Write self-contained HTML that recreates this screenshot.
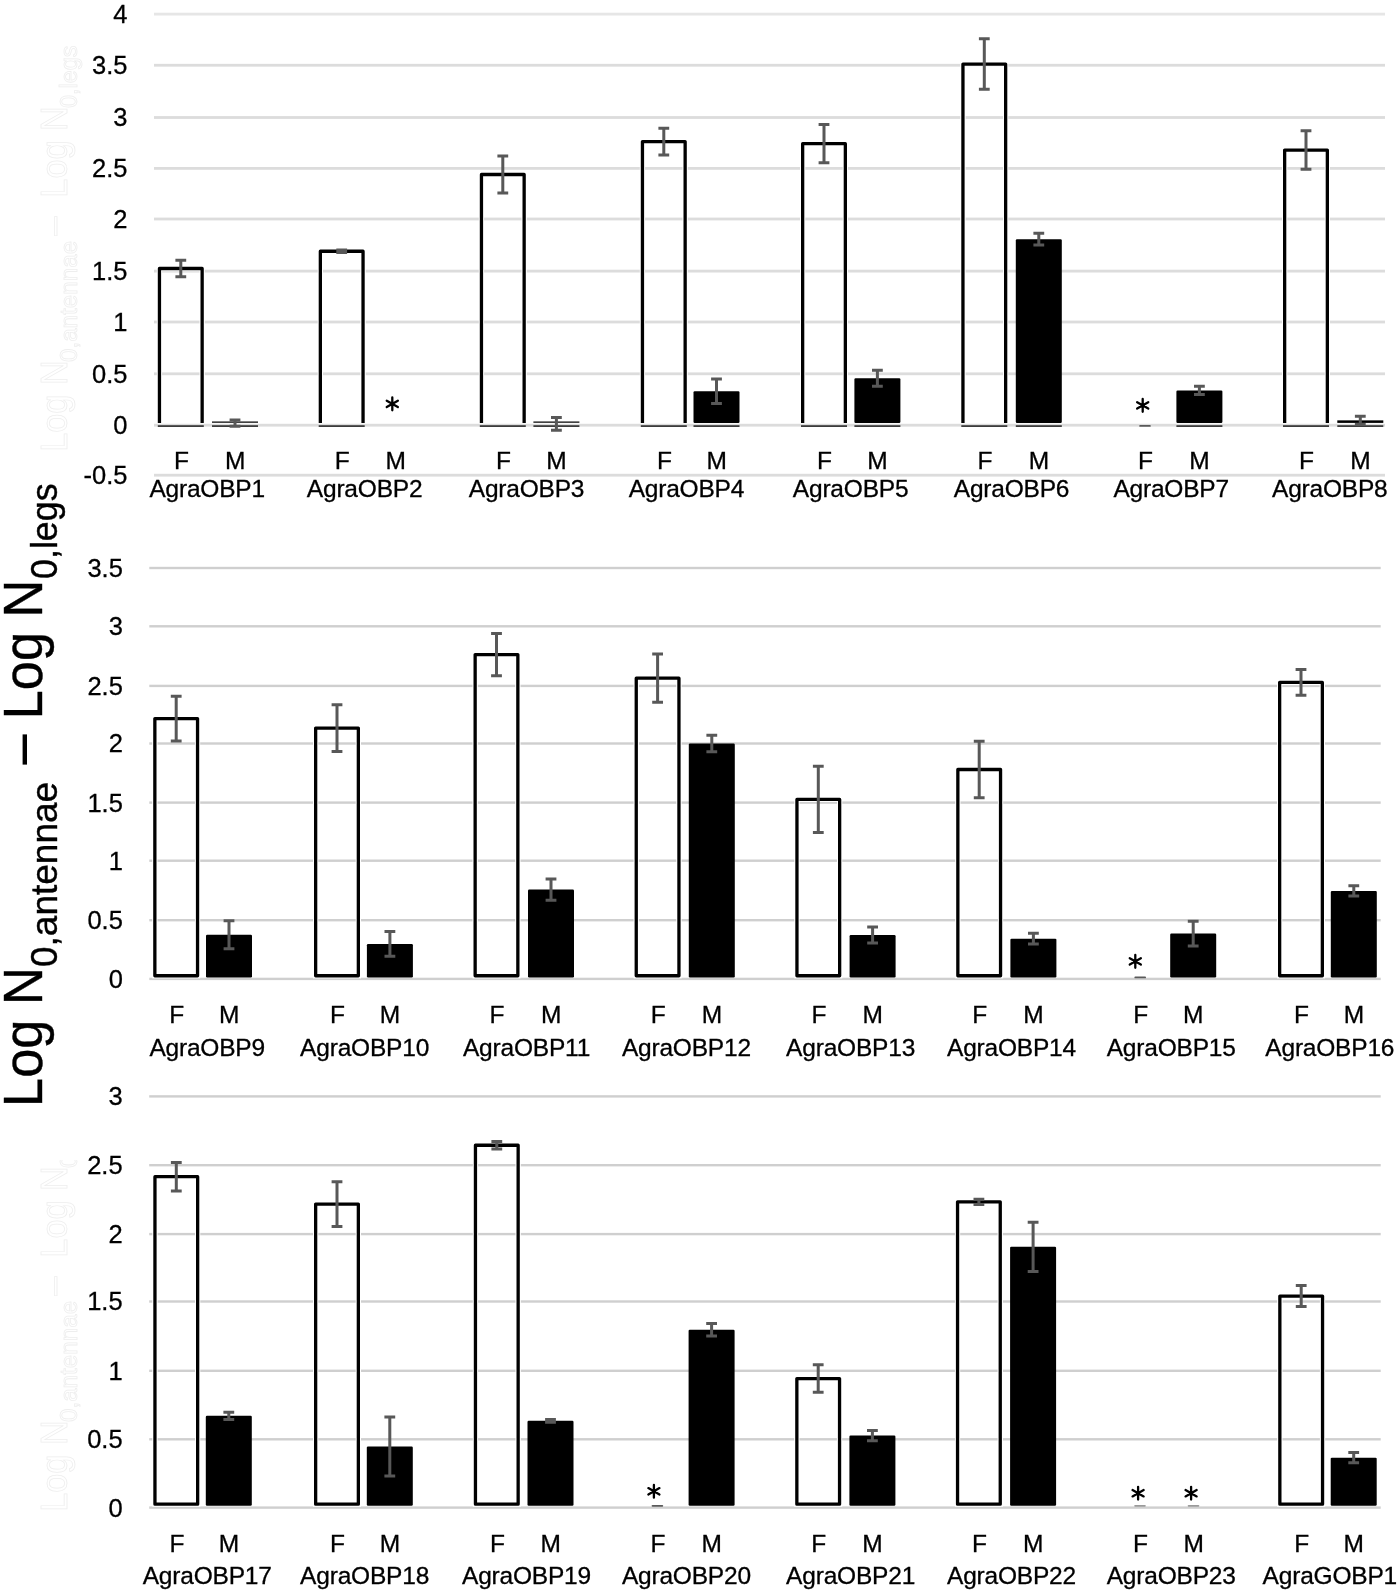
<!DOCTYPE html>
<html><head><meta charset="utf-8"><title>AgraOBP expression</title>
<style>
html,body{margin:0;padding:0;background:#fff;}
body{width:1400px;height:1593px;overflow:hidden;}
svg{display:block;will-change:transform;}
text{font-family:"Liberation Sans", sans-serif;fill:#000;}
.ax{font-size:25.5px;stroke:#000;stroke-width:0.3px;}
.cl{font-size:24.5px;stroke:#000;stroke-width:0.3px;letter-spacing:-0.2px;}
.ast{font-size:26px;}
.tt{font-size:54px;stroke:#000;stroke-width:0.4px;}
.sub{font-size:36.7px;}
.gh{fill:none;stroke:#eeeeee;stroke-width:0.8px;}
.gsub{font-size:22px;}
</style></head>
<body>
<svg width="1400" height="1593" viewBox="0 0 1400 1593">
<defs><clipPath id="gclip"><rect x="0" y="1160" width="140" height="380"/></clipPath></defs>
<rect width="1400" height="1593" fill="#fff"/>
<text class="gh" style="font-size:36.8765px" transform="translate(66.5,451.8) rotate(-90) scale(0.93,1)">Log N</text>
<text class="gh" style="font-size:24.235px" transform="translate(76.65,362.06) rotate(-90) scale(1.0,1)">0,antennae</text>
<text class="gh" style="font-size:36.8765px" transform="translate(64.53,235.65) rotate(-90) scale(0.93,1)">–</text>
<text class="gh" style="font-size:36.8765px" transform="translate(66.5,197.66) rotate(-90) scale(0.93,1)">Log N</text>
<text class="gh" style="font-size:24.235px" transform="translate(76.65,107.93) rotate(-90) scale(0.967,1)">0,legs</text>
<g clip-path="url(#gclip)"><text class="gh" style="font-size:36.8765px" transform="translate(66.5,1511.8) rotate(-90) scale(0.93,1)">Log N</text>
<text class="gh" style="font-size:24.235px" transform="translate(76.65,1422.07) rotate(-90) scale(1.0,1)">0,antennae</text>
<text class="gh" style="font-size:36.8765px" transform="translate(64.53,1295.65) rotate(-90) scale(0.93,1)">–</text>
<text class="gh" style="font-size:36.8765px" transform="translate(66.5,1257.66) rotate(-90) scale(0.93,1)">Log N</text>
<text class="gh" style="font-size:24.235px" transform="translate(76.65,1167.92) rotate(-90) scale(0.967,1)">0,legs</text></g>
<rect x="154" y="473.8" width="1231" height="2.8" fill="#dcdcdc"/>
<text x="127.5" y="484.1" text-anchor="end" class="ax">-0.5</text>
<rect x="154" y="423.8" width="1231" height="2.8" fill="#dcdcdc"/>
<text x="127.5" y="434.1" text-anchor="end" class="ax">0</text>
<rect x="154" y="372.4" width="1231" height="2.8" fill="#dcdcdc"/>
<text x="127.5" y="382.7" text-anchor="end" class="ax">0.5</text>
<rect x="154" y="320.6" width="1231" height="2.8" fill="#dcdcdc"/>
<text x="127.5" y="330.9" text-anchor="end" class="ax">1</text>
<rect x="154" y="269.7" width="1231" height="2.8" fill="#dcdcdc"/>
<text x="127.5" y="280" text-anchor="end" class="ax">1.5</text>
<rect x="154" y="217.6" width="1231" height="2.8" fill="#dcdcdc"/>
<text x="127.5" y="227.9" text-anchor="end" class="ax">2</text>
<rect x="154" y="167" width="1231" height="2.8" fill="#dcdcdc"/>
<text x="127.5" y="177.3" text-anchor="end" class="ax">2.5</text>
<rect x="154" y="116.1" width="1231" height="2.8" fill="#dcdcdc"/>
<text x="127.5" y="126.4" text-anchor="end" class="ax">3</text>
<rect x="154" y="63.85" width="1231" height="2.8" fill="#dcdcdc"/>
<text x="127.5" y="74.15" text-anchor="end" class="ax">3.5</text>
<rect x="154" y="12.7" width="1231" height="2.8" fill="#e6e6e6"/>
<text x="127.5" y="23" text-anchor="end" class="ax">4</text>
<path d="M159.45 422.9 V268.51 H202.15 V422.9" fill="none" stroke="#fff" stroke-width="5.3"/>
<path d="M159.45 422.9 V268.51 H202.15 V422.9" fill="none" stroke="#000" stroke-width="3.3" stroke-linejoin="round"/>
<rect x="157.8" y="425.2" width="46" height="1.8" fill="#3c3c3c"/>
<path d="M180.8 260.29V276.73M175.4 260.29H186.2M175.4 276.73H186.2" stroke="#585858" stroke-width="3.0" fill="none"/>
<rect x="212" y="421.4" width="46" height="1.5" fill="#2e2e2e"/>
<rect x="212" y="425.2" width="46" height="1.8" fill="#3c3c3c"/>
<path d="M235 420.06V426.23M229.6 420.06H240.4M229.6 426.23H240.4" stroke="#585858" stroke-width="3.0" fill="none"/>
<text x="181.3" y="468.9" text-anchor="middle" class="cl">F</text>
<text x="235" y="468.9" text-anchor="middle" class="cl">M</text>
<text x="207.2" y="497.4" text-anchor="middle" class="cl">AgraOBP1</text>
<path d="M320.35 422.9 V251.24 H363.05 V422.9" fill="none" stroke="#fff" stroke-width="5.3"/>
<path d="M320.35 422.9 V251.24 H363.05 V422.9" fill="none" stroke="#000" stroke-width="3.3" stroke-linejoin="round"/>
<rect x="318.7" y="425.2" width="46" height="1.8" fill="#3c3c3c"/>
<path d="M341.7 250.01V252.48M336.3 250.01H347.1M336.3 252.48H347.1" stroke="#585858" stroke-width="3.0" fill="none"/>
<path d="M392.3 410.3L392.3 397.5M386.76 407.1L397.84 400.7M386.76 400.7L397.84 407.1" stroke="#000" stroke-width="2.3" stroke-linecap="round" fill="none"/>
<circle cx="392.3" cy="403.9" r="2.2" fill="#000"/>
<text x="342.2" y="468.9" text-anchor="middle" class="cl">F</text>
<text x="395.5" y="468.9" text-anchor="middle" class="cl">M</text>
<text x="364.6" y="497.4" text-anchor="middle" class="cl">AgraOBP2</text>
<path d="M481.45 422.9 V174.49 H524.15 V422.9" fill="none" stroke="#fff" stroke-width="5.3"/>
<path d="M481.45 422.9 V174.49 H524.15 V422.9" fill="none" stroke="#000" stroke-width="3.3" stroke-linejoin="round"/>
<rect x="479.8" y="425.2" width="46" height="1.8" fill="#3c3c3c"/>
<path d="M502.8 156V192.99M497.4 156H508.2M497.4 192.99H508.2" stroke="#585858" stroke-width="3.0" fill="none"/>
<rect x="533.4" y="421.4" width="46" height="1.5" fill="#2e2e2e"/>
<rect x="533.4" y="425.2" width="46" height="1.8" fill="#3c3c3c"/>
<path d="M556.4 417.49V430.23M551 417.49H561.8M551 430.23H561.8" stroke="#585858" stroke-width="3.0" fill="none"/>
<text x="503.3" y="468.9" text-anchor="middle" class="cl">F</text>
<text x="556.4" y="468.9" text-anchor="middle" class="cl">M</text>
<text x="526.5" y="497.4" text-anchor="middle" class="cl">AgraOBP3</text>
<path d="M642.45 422.9 V141.61 H685.15 V422.9" fill="none" stroke="#fff" stroke-width="5.3"/>
<path d="M642.45 422.9 V141.61 H685.15 V422.9" fill="none" stroke="#000" stroke-width="3.3" stroke-linejoin="round"/>
<rect x="640.8" y="425.2" width="46" height="1.8" fill="#3c3c3c"/>
<path d="M663.8 128.25V154.97M658.4 128.25H669.2M658.4 154.97H669.2" stroke="#585858" stroke-width="3.0" fill="none"/>
<rect x="693.5" y="391.29" width="46" height="31.61" rx="1.2" fill="#000"/>
<rect x="693.5" y="425.2" width="46" height="1.8" fill="#3c3c3c"/>
<path d="M716.5 378.96V403.62M711.1 378.96H721.9M711.1 403.62H721.9" stroke="#585858" stroke-width="3.0" fill="none"/>
<text x="664.3" y="468.9" text-anchor="middle" class="cl">F</text>
<text x="716.5" y="468.9" text-anchor="middle" class="cl">M</text>
<text x="686.4" y="497.4" text-anchor="middle" class="cl">AgraOBP4</text>
<path d="M802.65 422.9 V143.66 H845.35 V422.9" fill="none" stroke="#fff" stroke-width="5.3"/>
<path d="M802.65 422.9 V143.66 H845.35 V422.9" fill="none" stroke="#000" stroke-width="3.3" stroke-linejoin="round"/>
<rect x="801" y="425.2" width="46" height="1.8" fill="#3c3c3c"/>
<path d="M824 124.55V162.78M818.6 124.55H829.4M818.6 162.78H829.4" stroke="#585858" stroke-width="3.0" fill="none"/>
<rect x="854.4" y="378.24" width="46" height="44.66" rx="1.2" fill="#000"/>
<rect x="854.4" y="425.2" width="46" height="1.8" fill="#3c3c3c"/>
<path d="M877.4 370.13V386.36M872 370.13H882.8M872 386.36H882.8" stroke="#585858" stroke-width="3.0" fill="none"/>
<text x="824.5" y="468.9" text-anchor="middle" class="cl">F</text>
<text x="877.4" y="468.9" text-anchor="middle" class="cl">M</text>
<text x="850.6" y="497.4" text-anchor="middle" class="cl">AgraOBP5</text>
<path d="M962.95 422.9 V64.03 H1005.65 V422.9" fill="none" stroke="#fff" stroke-width="5.3"/>
<path d="M962.95 422.9 V64.03 H1005.65 V422.9" fill="none" stroke="#000" stroke-width="3.3" stroke-linejoin="round"/>
<rect x="961.3" y="425.2" width="46" height="1.8" fill="#3c3c3c"/>
<path d="M984.3 38.86V89.21M978.9 38.86H989.7M978.9 89.21H989.7" stroke="#585858" stroke-width="3.0" fill="none"/>
<rect x="1015.8" y="239.22" width="46" height="183.68" rx="1.2" fill="#000"/>
<rect x="1015.8" y="425.2" width="46" height="1.8" fill="#3c3c3c"/>
<path d="M1038.8 233.37V245.08M1033.4 233.37H1044.2M1033.4 245.08H1044.2" stroke="#585858" stroke-width="3.0" fill="none"/>
<text x="984.8" y="468.9" text-anchor="middle" class="cl">F</text>
<text x="1038.8" y="468.9" text-anchor="middle" class="cl">M</text>
<text x="1011.5" y="497.4" text-anchor="middle" class="cl">AgraOBP6</text>
<rect x="1139.2" y="425" width="11.6" height="1.8" rx="0.9" fill="#5a5a5a"/>
<path d="M1142.7 411.8L1142.7 399M1137.16 408.6L1148.24 402.2M1137.16 402.2L1148.24 408.6" stroke="#000" stroke-width="2.3" stroke-linecap="round" fill="none"/>
<circle cx="1142.7" cy="405.4" r="2.2" fill="#000"/>
<rect x="1176.4" y="390.47" width="46" height="32.43" rx="1.2" fill="#000"/>
<rect x="1176.4" y="425.2" width="46" height="1.8" fill="#3c3c3c"/>
<path d="M1199.4 386.36V394.58M1194 386.36H1204.8M1194 394.58H1204.8" stroke="#585858" stroke-width="3.0" fill="none"/>
<text x="1145.5" y="468.9" text-anchor="middle" class="cl">F</text>
<text x="1199.4" y="468.9" text-anchor="middle" class="cl">M</text>
<text x="1171.2" y="497.4" text-anchor="middle" class="cl">AgraOBP7</text>
<path d="M1284.65 422.9 V150.04 H1327.35 V422.9" fill="none" stroke="#fff" stroke-width="5.3"/>
<path d="M1284.65 422.9 V150.04 H1327.35 V422.9" fill="none" stroke="#000" stroke-width="3.3" stroke-linejoin="round"/>
<rect x="1283" y="425.2" width="46" height="1.8" fill="#3c3c3c"/>
<path d="M1306 130.72V169.35M1300.6 130.72H1311.4M1300.6 169.35H1311.4" stroke="#585858" stroke-width="3.0" fill="none"/>
<rect x="1337.3" y="420.37" width="46" height="2.53" fill="#000"/>
<rect x="1337.3" y="425.2" width="46" height="1.8" fill="#3c3c3c"/>
<path d="M1360.3 416.26V424.48M1354.9 416.26H1365.7M1354.9 424.48H1365.7" stroke="#585858" stroke-width="3.0" fill="none"/>
<text x="1306.5" y="468.9" text-anchor="middle" class="cl">F</text>
<text x="1360.3" y="468.9" text-anchor="middle" class="cl">M</text>
<text x="1329.8" y="497.4" text-anchor="middle" class="cl">AgraOBP8</text>
<rect x="149.3" y="977.7" width="1231.4" height="2.4" fill="#cfcfcf"/>
<text x="122.9" y="987.8" text-anchor="end" class="ax">0</text>
<rect x="149.3" y="919" width="1231.4" height="2.4" fill="#cfcfcf"/>
<text x="122.9" y="929.1" text-anchor="end" class="ax">0.5</text>
<rect x="149.3" y="859.5" width="1231.4" height="2.4" fill="#cfcfcf"/>
<text x="122.9" y="869.6" text-anchor="end" class="ax">1</text>
<rect x="149.3" y="801.4" width="1231.4" height="2.4" fill="#cfcfcf"/>
<text x="122.9" y="811.5" text-anchor="end" class="ax">1.5</text>
<rect x="149.3" y="742.3" width="1231.4" height="2.4" fill="#cfcfcf"/>
<text x="122.9" y="752.4" text-anchor="end" class="ax">2</text>
<rect x="149.3" y="684.7" width="1231.4" height="2.4" fill="#cfcfcf"/>
<text x="122.9" y="694.8" text-anchor="end" class="ax">2.5</text>
<rect x="149.3" y="625.1" width="1231.4" height="2.4" fill="#cfcfcf"/>
<text x="122.9" y="635.2" text-anchor="end" class="ax">3</text>
<rect x="149.3" y="566.8" width="1231.4" height="2.4" fill="#cfcfcf"/>
<text x="122.9" y="576.9" text-anchor="end" class="ax">3.5</text>
<rect x="154.85" y="718.59" width="42.7" height="257.16" fill="none" stroke="#fff" stroke-width="5.3"/>
<rect x="154.85" y="718.59" width="42.7" height="257.16" fill="none" stroke="#000" stroke-width="3.3" stroke-linejoin="round"/>
<path d="M176.2 696.31V740.88M170.8 696.31H181.6M170.8 740.88H181.6" stroke="#585858" stroke-width="3.0" fill="none"/>
<rect x="206" y="934.78" width="46" height="42.62" rx="1.2" fill="#000"/>
<path d="M229 920.7V948.85M223.6 920.7H234.4M223.6 948.85H234.4" stroke="#585858" stroke-width="3.0" fill="none"/>
<text x="176.7" y="1023.2" text-anchor="middle" class="cl">F</text>
<text x="229" y="1023.2" text-anchor="middle" class="cl">M</text>
<text x="207.2" y="1056.4" text-anchor="middle" class="cl">AgraOBP9</text>
<rect x="315.65" y="728.1" width="42.7" height="247.65" fill="none" stroke="#fff" stroke-width="5.3"/>
<rect x="315.65" y="728.1" width="42.7" height="247.65" fill="none" stroke="#000" stroke-width="3.3" stroke-linejoin="round"/>
<path d="M337 704.64V751.56M331.6 704.64H342.4M331.6 751.56H342.4" stroke="#585858" stroke-width="3.0" fill="none"/>
<rect x="366.9" y="943.93" width="46" height="33.47" rx="1.2" fill="#000"/>
<path d="M389.9 931.49V956.36M384.5 931.49H395.3M384.5 956.36H395.3" stroke="#585858" stroke-width="3.0" fill="none"/>
<text x="337.5" y="1023.2" text-anchor="middle" class="cl">F</text>
<text x="389.9" y="1023.2" text-anchor="middle" class="cl">M</text>
<text x="364.6" y="1056.4" text-anchor="middle" class="cl">AgraOBP10</text>
<rect x="475.15" y="654.55" width="42.7" height="321.2" fill="none" stroke="#fff" stroke-width="5.3"/>
<rect x="475.15" y="654.55" width="42.7" height="321.2" fill="none" stroke="#000" stroke-width="3.3" stroke-linejoin="round"/>
<path d="M496.5 633.43V675.66M491.1 633.43H501.9M491.1 675.66H501.9" stroke="#585858" stroke-width="3.0" fill="none"/>
<rect x="528" y="889.62" width="46" height="87.78" rx="1.2" fill="#000"/>
<path d="M551 879.06V900.17M545.6 879.06H556.4M545.6 900.17H556.4" stroke="#585858" stroke-width="3.0" fill="none"/>
<text x="497" y="1023.2" text-anchor="middle" class="cl">F</text>
<text x="551" y="1023.2" text-anchor="middle" class="cl">M</text>
<text x="526.5" y="1056.4" text-anchor="middle" class="cl">AgraOBP11</text>
<rect x="636.25" y="678.13" width="42.7" height="297.62" fill="none" stroke="#fff" stroke-width="5.3"/>
<rect x="636.25" y="678.13" width="42.7" height="297.62" fill="none" stroke="#000" stroke-width="3.3" stroke-linejoin="round"/>
<path d="M657.6 654.08V702.17M652.2 654.08H663M652.2 702.17H663" stroke="#585858" stroke-width="3.0" fill="none"/>
<rect x="688.8" y="743.46" width="46" height="233.94" rx="1.2" fill="#000"/>
<path d="M711.8 735.25V751.67M706.4 735.25H717.2M706.4 751.67H717.2" stroke="#585858" stroke-width="3.0" fill="none"/>
<text x="658.1" y="1023.2" text-anchor="middle" class="cl">F</text>
<text x="711.8" y="1023.2" text-anchor="middle" class="cl">M</text>
<text x="686.4" y="1056.4" text-anchor="middle" class="cl">AgraOBP12</text>
<rect x="796.95" y="799.41" width="42.7" height="176.34" fill="none" stroke="#fff" stroke-width="5.3"/>
<rect x="796.95" y="799.41" width="42.7" height="176.34" fill="none" stroke="#000" stroke-width="3.3" stroke-linejoin="round"/>
<path d="M818.3 766.22V832.61M812.9 766.22H823.7M812.9 832.61H823.7" stroke="#585858" stroke-width="3.0" fill="none"/>
<rect x="849.6" y="935.01" width="46" height="42.39" rx="1.2" fill="#000"/>
<path d="M872.6 927.04V942.99M867.2 927.04H878M867.2 942.99H878" stroke="#585858" stroke-width="3.0" fill="none"/>
<text x="818.8" y="1023.2" text-anchor="middle" class="cl">F</text>
<text x="872.6" y="1023.2" text-anchor="middle" class="cl">M</text>
<text x="850.6" y="1056.4" text-anchor="middle" class="cl">AgraOBP13</text>
<rect x="957.85" y="769.5" width="42.7" height="206.25" fill="none" stroke="#fff" stroke-width="5.3"/>
<rect x="957.85" y="769.5" width="42.7" height="206.25" fill="none" stroke="#000" stroke-width="3.3" stroke-linejoin="round"/>
<path d="M979.2 741.35V797.65M973.8 741.35H984.6M973.8 797.65H984.6" stroke="#585858" stroke-width="3.0" fill="none"/>
<rect x="1010.4" y="938.65" width="46" height="38.75" rx="1.2" fill="#000"/>
<path d="M1033.4 933.37V943.93M1028 933.37H1038.8M1028 943.93H1038.8" stroke="#585858" stroke-width="3.0" fill="none"/>
<text x="979.7" y="1023.2" text-anchor="middle" class="cl">F</text>
<text x="1033.4" y="1023.2" text-anchor="middle" class="cl">M</text>
<text x="1011.5" y="1056.4" text-anchor="middle" class="cl">AgraOBP14</text>
<rect x="1134.4" y="976.5" width="11.6" height="1.8" rx="0.9" fill="#5a5a5a"/>
<path d="M1135.3 967.8L1135.3 955M1129.76 964.6L1140.84 958.2M1129.76 958.2L1140.84 964.6" stroke="#000" stroke-width="2.3" stroke-linecap="round" fill="none"/>
<circle cx="1135.3" cy="961.4" r="2.2" fill="#000"/>
<rect x="1170.2" y="933.6" width="46" height="43.8" rx="1.2" fill="#000"/>
<path d="M1193.2 921.17V946.04M1187.8 921.17H1198.6M1187.8 946.04H1198.6" stroke="#585858" stroke-width="3.0" fill="none"/>
<text x="1140.7" y="1023.2" text-anchor="middle" class="cl">F</text>
<text x="1193.2" y="1023.2" text-anchor="middle" class="cl">M</text>
<text x="1171.2" y="1056.4" text-anchor="middle" class="cl">AgraOBP15</text>
<rect x="1279.65" y="682.47" width="42.7" height="293.28" fill="none" stroke="#fff" stroke-width="5.3"/>
<rect x="1279.65" y="682.47" width="42.7" height="293.28" fill="none" stroke="#000" stroke-width="3.3" stroke-linejoin="round"/>
<path d="M1301 669.56V695.37M1295.6 669.56H1306.4M1295.6 695.37H1306.4" stroke="#585858" stroke-width="3.0" fill="none"/>
<rect x="1330.8" y="890.91" width="46" height="86.49" rx="1.2" fill="#000"/>
<path d="M1353.8 885.86V895.95M1348.4 885.86H1359.2M1348.4 895.95H1359.2" stroke="#585858" stroke-width="3.0" fill="none"/>
<text x="1301.5" y="1023.2" text-anchor="middle" class="cl">F</text>
<text x="1353.8" y="1023.2" text-anchor="middle" class="cl">M</text>
<text x="1329.8" y="1056.4" text-anchor="middle" class="cl">AgraOBP16</text>
<rect x="149.2" y="1506.4" width="1231.5" height="2.4" fill="#cfcfcf"/>
<text x="122.6" y="1516.5" text-anchor="end" class="ax">0</text>
<rect x="149.2" y="1438.1" width="1231.5" height="2.4" fill="#cfcfcf"/>
<text x="122.6" y="1448.2" text-anchor="end" class="ax">0.5</text>
<rect x="149.2" y="1369.6" width="1231.5" height="2.4" fill="#cfcfcf"/>
<text x="122.6" y="1379.7" text-anchor="end" class="ax">1</text>
<rect x="149.2" y="1300.3" width="1231.5" height="2.4" fill="#cfcfcf"/>
<text x="122.6" y="1310.4" text-anchor="end" class="ax">1.5</text>
<rect x="149.2" y="1232.9" width="1231.5" height="2.4" fill="#cfcfcf"/>
<text x="122.6" y="1243" text-anchor="end" class="ax">2</text>
<rect x="149.2" y="1164" width="1231.5" height="2.4" fill="#cfcfcf"/>
<text x="122.6" y="1174.1" text-anchor="end" class="ax">2.5</text>
<rect x="149.2" y="1095.2" width="1231.5" height="2.4" fill="#cfcfcf"/>
<text x="122.6" y="1105.3" text-anchor="end" class="ax">3</text>
<rect x="154.95" y="1176.65" width="42.7" height="327.5" fill="none" stroke="#fff" stroke-width="5.3"/>
<rect x="154.95" y="1176.65" width="42.7" height="327.5" fill="none" stroke="#000" stroke-width="3.3" stroke-linejoin="round"/>
<path d="M176.3 1162.39V1190.91M170.9 1162.39H181.7M170.9 1190.91H181.7" stroke="#585858" stroke-width="3.0" fill="none"/>
<rect x="205.8" y="1415.84" width="46" height="89.96" rx="1.2" fill="#000"/>
<path d="M228.8 1412.14V1419.54M223.4 1412.14H234.2M223.4 1419.54H234.2" stroke="#585858" stroke-width="3.0" fill="none"/>
<text x="176.8" y="1552" text-anchor="middle" class="cl">F</text>
<text x="228.8" y="1552" text-anchor="middle" class="cl">M</text>
<text x="207.2" y="1584.4" text-anchor="middle" class="cl">AgraOBP17</text>
<rect x="315.65" y="1204.06" width="42.7" height="300.09" fill="none" stroke="#fff" stroke-width="5.3"/>
<rect x="315.65" y="1204.06" width="42.7" height="300.09" fill="none" stroke="#000" stroke-width="3.3" stroke-linejoin="round"/>
<path d="M337 1181.72V1226.41M331.6 1181.72H342.4M331.6 1226.41H342.4" stroke="#585858" stroke-width="3.0" fill="none"/>
<rect x="366.8" y="1446.54" width="46" height="59.26" rx="1.2" fill="#000"/>
<path d="M389.8 1417.07V1476.01M384.4 1417.07H395.2M384.4 1476.01H395.2" stroke="#585858" stroke-width="3.0" fill="none"/>
<text x="337.5" y="1552" text-anchor="middle" class="cl">F</text>
<text x="389.8" y="1552" text-anchor="middle" class="cl">M</text>
<text x="364.6" y="1584.4" text-anchor="middle" class="cl">AgraOBP18</text>
<rect x="475.45" y="1145.26" width="42.7" height="358.89" fill="none" stroke="#fff" stroke-width="5.3"/>
<rect x="475.45" y="1145.26" width="42.7" height="358.89" fill="none" stroke="#000" stroke-width="3.3" stroke-linejoin="round"/>
<path d="M496.8 1141.56V1148.96M491.4 1141.56H502.2M491.4 1148.96H502.2" stroke="#585858" stroke-width="3.0" fill="none"/>
<rect x="527.5" y="1420.77" width="46" height="85.03" rx="1.2" fill="#000"/>
<path d="M550.5 1419.4V1422.14M545.1 1419.4H555.9M545.1 1422.14H555.9" stroke="#585858" stroke-width="3.0" fill="none"/>
<text x="497.3" y="1552" text-anchor="middle" class="cl">F</text>
<text x="550.5" y="1552" text-anchor="middle" class="cl">M</text>
<text x="526.5" y="1584.4" text-anchor="middle" class="cl">AgraOBP19</text>
<rect x="651.6" y="1504.9" width="11.6" height="1.8" rx="0.9" fill="#5a5a5a"/>
<path d="M653.9 1497.7L653.9 1484.9M648.36 1494.5L659.44 1488.1M648.36 1488.1L659.44 1494.5" stroke="#000" stroke-width="2.3" stroke-linecap="round" fill="none"/>
<circle cx="653.9" cy="1491.3" r="2.2" fill="#000"/>
<rect x="688.6" y="1329.76" width="46" height="176.04" rx="1.2" fill="#000"/>
<path d="M711.6 1323.59V1335.93M706.2 1323.59H717M706.2 1335.93H717" stroke="#585858" stroke-width="3.0" fill="none"/>
<text x="657.9" y="1552" text-anchor="middle" class="cl">F</text>
<text x="711.6" y="1552" text-anchor="middle" class="cl">M</text>
<text x="686.4" y="1584.4" text-anchor="middle" class="cl">AgraOBP20</text>
<rect x="796.85" y="1378.55" width="42.7" height="125.6" fill="none" stroke="#fff" stroke-width="5.3"/>
<rect x="796.85" y="1378.55" width="42.7" height="125.6" fill="none" stroke="#000" stroke-width="3.3" stroke-linejoin="round"/>
<path d="M818.2 1364.85V1392.26M812.8 1364.85H823.6M812.8 1392.26H823.6" stroke="#585858" stroke-width="3.0" fill="none"/>
<rect x="849.4" y="1435.58" width="46" height="70.22" rx="1.2" fill="#000"/>
<path d="M872.4 1430.5V1440.65M867 1430.5H877.8M867 1440.65H877.8" stroke="#585858" stroke-width="3.0" fill="none"/>
<text x="818.7" y="1552" text-anchor="middle" class="cl">F</text>
<text x="872.4" y="1552" text-anchor="middle" class="cl">M</text>
<text x="850.6" y="1584.4" text-anchor="middle" class="cl">AgraOBP21</text>
<rect x="957.55" y="1201.87" width="42.7" height="302.28" fill="none" stroke="#fff" stroke-width="5.3"/>
<rect x="957.55" y="1201.87" width="42.7" height="302.28" fill="none" stroke="#000" stroke-width="3.3" stroke-linejoin="round"/>
<path d="M978.9 1199.13V1204.61M973.5 1199.13H984.3M973.5 1204.61H984.3" stroke="#585858" stroke-width="3.0" fill="none"/>
<rect x="1010.1" y="1246.83" width="46" height="258.97" rx="1.2" fill="#000"/>
<path d="M1033.1 1222.16V1271.5M1027.7 1222.16H1038.5M1027.7 1271.5H1038.5" stroke="#585858" stroke-width="3.0" fill="none"/>
<text x="979.4" y="1552" text-anchor="middle" class="cl">F</text>
<text x="1033.1" y="1552" text-anchor="middle" class="cl">M</text>
<text x="1011.5" y="1584.4" text-anchor="middle" class="cl">AgraOBP22</text>
<rect x="1134.2" y="1504.9" width="11.6" height="1.8" rx="0.9" fill="#9a9a9a"/>
<path d="M1138.1 1499.6L1138.1 1486.8M1132.56 1496.4L1143.64 1490M1132.56 1490L1143.64 1496.4" stroke="#000" stroke-width="2.3" stroke-linecap="round" fill="none"/>
<circle cx="1138.1" cy="1493.2" r="2.2" fill="#000"/>
<rect x="1187.7" y="1504.9" width="11.6" height="1.8" rx="0.9" fill="#9a9a9a"/>
<path d="M1191.1 1499.6L1191.1 1486.8M1185.56 1496.4L1196.64 1490M1185.56 1490L1196.64 1496.4" stroke="#000" stroke-width="2.3" stroke-linecap="round" fill="none"/>
<circle cx="1191.1" cy="1493.2" r="2.2" fill="#000"/>
<text x="1140.5" y="1552" text-anchor="middle" class="cl">F</text>
<text x="1193.5" y="1552" text-anchor="middle" class="cl">M</text>
<text x="1171.2" y="1584.4" text-anchor="middle" class="cl">AgraOBP23</text>
<rect x="1279.85" y="1296.04" width="42.7" height="208.11" fill="none" stroke="#fff" stroke-width="5.3"/>
<rect x="1279.85" y="1296.04" width="42.7" height="208.11" fill="none" stroke="#000" stroke-width="3.3" stroke-linejoin="round"/>
<path d="M1301.2 1285.48V1306.59M1295.8 1285.48H1306.6M1295.8 1306.59H1306.6" stroke="#585858" stroke-width="3.0" fill="none"/>
<rect x="1330.7" y="1457.64" width="46" height="48.16" rx="1.2" fill="#000"/>
<path d="M1353.7 1452.43V1462.85M1348.3 1452.43H1359.1M1348.3 1462.85H1359.1" stroke="#585858" stroke-width="3.0" fill="none"/>
<text x="1301.7" y="1552" text-anchor="middle" class="cl">F</text>
<text x="1353.7" y="1552" text-anchor="middle" class="cl">M</text>
<text x="1329.8" y="1584.4" text-anchor="middle" class="cl">AgraGOBP1</text>
<text class="tt" style="font-size:56.3px" transform="translate(41.9,1106.99) rotate(-90) scale(0.93,1)">Log N</text>
<text class="tt" style="font-size:37.0px" transform="translate(57.4,967.04) rotate(-90) scale(1.0,1)">0,antennae</text>
<rect x="22.6" y="734.4" width="4.4" height="30.2" fill="#000"/>
<text class="tt" style="font-size:56.3px" transform="translate(41.9,719.29) rotate(-90) scale(0.93,1)">Log N</text>
<text class="tt" style="font-size:37.0px" transform="translate(57.4,578.9) rotate(-90) scale(0.967,1)">0,legs</text>
</svg>
</body></html>
